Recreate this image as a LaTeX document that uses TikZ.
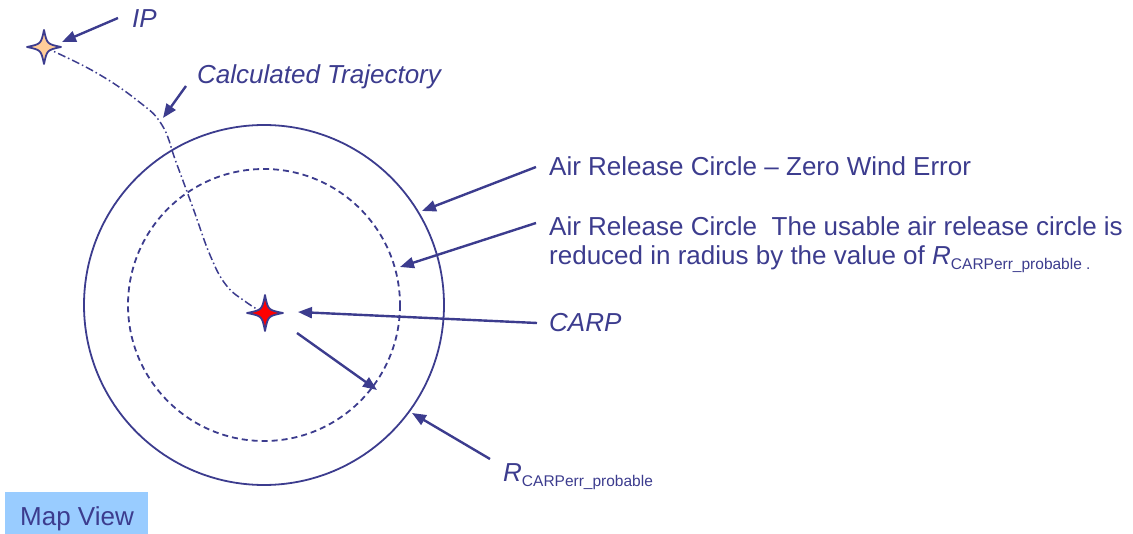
\documentclass[tikz,border=0pt]{standalone}
\usepackage{fontspec}
\setmainfont{Liberation Sans}
\usetikzlibrary{arrows.meta}
\definecolor{ink}{RGB}{60,60,142}
\definecolor{mapfill}{RGB}{153,204,255}
\definecolor{ipfill}{RGB}{255,204,153}
\definecolor{carpfill}{RGB}{255,0,0}
\newcommand{\subtxt}[1]{\raisebox{-5pt}{\fontsize{15.5}{16}\selectfont #1}}
\begin{document}
\begin{tikzpicture}[x=1pt,y=-1pt,
  lbl/.style={anchor=base west,inner sep=0pt,text=ink,font=\fontsize{26}{30}\selectfont},
  ptr/.style={draw=ink,line width=2.4pt,-{Triangle[length=14pt,width=11pt]}},
  ring/.style={draw=ink,line width=1.8pt},
  starline/.style={draw=ink,line width=1.8pt,line join=round},
  trajline/.style={draw=ink,line width=1.5pt,dash pattern=on 8pt off 3pt on 1.5pt off 3pt}]
\useasboundingbox (0,0) rectangle (1133,534);

% release circles around the target area
\coordinate (ctr) at (264,305);
\draw[ring] (ctr) circle[radius=180];
\draw[ring,dash pattern=on 6pt off 4pt] (ctr) circle[radius=136];

% star positions
\coordinate (ip) at (44,47);
\coordinate (carp) at (265,313);

% calculated trajectory from IP to CARP
\draw[trajline] plot[smooth,tension=0.7] coordinates
  {(44,47) (95,72) (138,101) (162,125) (176,162) (193,208) (210,255) (226,285) (246,302) (262,312)};

% four-pointed stars
\draw[starline,fill=ipfill,shift={(ip)}] (0,-17) .. controls (3,-3) .. (17,0)
  .. controls (3,3) .. (0,17) .. controls (-3,3) .. (-17,0)
  .. controls (-3,-3) .. cycle;
\draw[starline,fill=carpfill,shift={(carp)}] (0,-18) .. controls (3,-3) .. (18,0)
  .. controls (3,3) .. (0,18) .. controls (-3,3) .. (-18,0)
  .. controls (-3,-3) .. cycle;

% labels
\node[lbl,font=\fontsize{26}{30}\selectfont\itshape] (iplabel) at (132,28) {IP};
\node[lbl,font=\fontsize{26}{30}\selectfont\itshape] (trajlabel) at (197,84) {Calculated Trajectory};
\node[lbl] (zerolabel) at (549,176) {Air Release Circle – Zero Wind Error};
\node[lbl] (usable1) at (549,236) {Air Release Circle~~The usable air release circle is};
\node[lbl] (usable2) at (549,265) {reduced in radius by the value of \textit{R}\subtxt{CARPerr\_probable .}};
\node[lbl,font=\fontsize{26}{30}\selectfont\itshape] (carplabel) at (549,332) {CARP};
\node[lbl] (rlabel) at (503,482) {\textit{R}\subtxt{CARPerr\_probable}};

% leader arrows
\coordinate (ipT) at (118,18);   \coordinate (ipH) at (62,42);
\coordinate (trT) at (186,86);   \coordinate (trH) at (163,118);
\coordinate (zT) at (536,167);   \coordinate (zH) at (422,211);
\coordinate (uT) at (536,223);   \coordinate (uH) at (400,267);
\coordinate (cT) at (537,323);   \coordinate (cH) at (298,312);
\coordinate (radT) at (297,333); \coordinate (radH) at (377,390);
\coordinate (rT) at (490,459);   \coordinate (rH) at (412,413);
\draw[ptr] (ipT) -- (ipH);
\draw[ptr] (trT) -- (trH);
\draw[ptr] (zT) -- (zH);
\draw[ptr] (uT) -- (uH);
\draw[ptr] (cT) -- (cH);
\draw[ptr] (radT) -- (radH);
\draw[ptr] (rT) -- (rH);

% view caption
\node[fill=mapfill,minimum width=143pt,minimum height=42pt,inner sep=0pt,anchor=north west] (mapbox) at (5,492) {};
\node[lbl] (maplabel) at (20,525) {Map View};
\end{tikzpicture}
\end{document}
